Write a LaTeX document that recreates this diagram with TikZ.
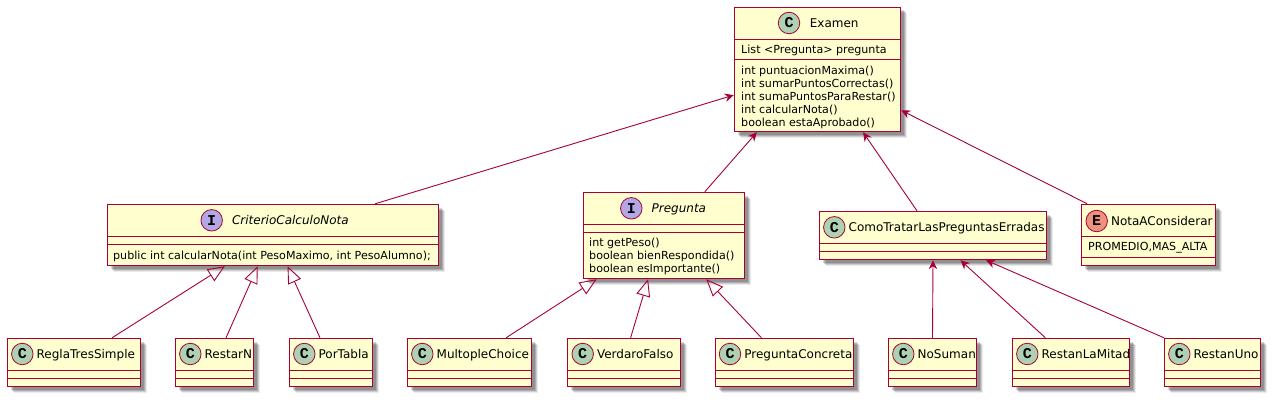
\documentclass[tikz,border=0pt]{standalone}
\usepackage{fontspec}
\setmainfont{DejaVu Sans}
\newfontfamily\markfont{Liberation Mono}
\usetikzlibrary{arrows.meta,positioning,shadows}
\definecolor{umlred}{RGB}{168,0,54}
\definecolor{umlyellow}{RGB}{254,254,206}
\definecolor{cgreen}{RGB}{173,209,178}
\definecolor{ipurple}{RGB}{180,167,229}
\definecolor{eorange}{RGB}{235,147,127}

% frame of one class: name, x0, x1, y0, y1, first and second divider
\newcommand{\classframe}[7]{
  \node[classbox,minimum width=#3pt-#2pt,minimum height=#5pt-#4pt] (#1) at ({(#2+#3)/2},{(#4+#5)/2}) {};
  \draw[divider] (#1.west |- 0,#6) -- (#1.east |- 0,#6);
  \draw[divider] (#1.west |- 0,#7) -- (#1.east |- 0,#7);
}

\begin{document}
\begin{tikzpicture}[x=1pt,y=-1pt,font=\fontsize{11.1}{13}\selectfont,
  classbox/.style={draw=umlred,fill=umlyellow,line width=1.5pt,inner sep=0pt,
    drop shadow={shadow xshift=6pt,shadow yshift=-6pt,fill=black,opacity=.08},
    drop shadow={shadow xshift=5pt,shadow yshift=-5pt,fill=black,opacity=.12},
    drop shadow={shadow xshift=4pt,shadow yshift=-4pt,fill=black,opacity=.16},
    drop shadow={shadow xshift=3pt,shadow yshift=-3pt,fill=black,opacity=.16}},
  divider/.style={draw=umlred,line width=1.2pt},
  markbase/.style={circle,draw=umlred,line width=.8pt,minimum size=21.5pt,inner sep=0pt,
    font=\markfont\bfseries\fontsize{15}{15}\selectfont},
  cmark/.style={markbase,fill=cgreen},
  imark/.style={markbase,fill=ipurple},
  emark/.style={markbase,fill=eorange},
  titletext/.style={inner sep=0pt,text height=10pt,text depth=1.5pt,font=\fontsize{12}{14}\selectfont},
  membertext/.style={inner sep=0pt,anchor=west,align=left},
  assoc/.style={draw=umlred,line width=.9pt,-{Stealth[length=9pt,width=8.5pt,inset=3pt]}},
  realize/.style={draw=umlred,line width=.9pt,-{Triangle[open,length=17pt,width=14pt]}}]

  \useasboundingbox (0,0) rectangle (1278,404);

  % top class
  \classframe{examen}{734.5}{900.5}{7.5}{131.5}{39.5}{59.5}
  \node[cmark] (examenC) at (789,23) {C};
  \node[titletext,right=9.5pt of examenC] (examenT) {Examen};
  \node[membertext] (examenA) at (741,50) {List <Pregunta> pregunta};
  \node[membertext] (examenM) at (741,97.5) {int puntuacionMaxima()\\int sumarPuntosCorrectas()\\int sumaPuntosParaRestar()\\int calcularNota()\\boolean estaAprobado()};

  % middle row
  \classframe{criterio}{107.5}{438.5}{204.5}{265.5}{236.5}{244.5}
  \node[imark] (criterioI) at (211.7,220.3) {I};
  \node[titletext,right=9pt of criterioI,font=\fontsize{12}{14}\selectfont\itshape] (criterioT) {CriterioCalculoNota};
  \node[membertext] (criterioM) at (113,256) {public int calcularNota(int PesoMaximo, int PesoAlumno);};

  \classframe{pregunta}{583.5}{744.5}{192.5}{278.5}{224.5}{232.5}
  \node[imark] (preguntaI) at (631.3,208.3) {I};
  \node[titletext,right=9pt of preguntaI,font=\fontsize{12}{14}\selectfont\itshape] (preguntaT) {Pregunta};
  \node[membertext] (preguntaM) at (589,256.3) {int getPeso()\\boolean bienRespondida()\\boolean esImportante()};

  \classframe{como}{819.5}{1046.5}{211.5}{259.5}{243.5}{251.5}
  \node[cmark] (comoC) at (834.3,227.3) {C};
  \node[titletext,right=3pt of comoC] (comoT) {ComoTratarLasPreguntasErradas};

  \classframe{nota}{1081.5}{1215.5}{204.5}{265.5}{236.5}{257.5}
  \node[emark] (notaE) at (1096.7,221) {E};
  \node[titletext,right=3pt of notaE] (notaT) {NotaAConsiderar};
  \node[membertext] (notaA) at (1088,248) {PROMEDIO,MAS\_ALTA};

  % bottom row
  \classframe{regla}{7.5}{140.5}{338.5}{386.5}{370.5}{378.5}
  \node[cmark] (reglaC) at (22.3,354) {C};
  \node[titletext,right=3pt of reglaC] (reglaT) {ReglaTresSimple};

  \classframe{restarn}{175.5}{253.5}{338.5}{386.5}{370.5}{378.5}
  \node[cmark] (restarnC) at (190.3,354) {C};
  \node[titletext,right=3pt of restarnC] (restarnT) {RestarN};

  \classframe{portabla}{289.5}{372.5}{338.5}{386.5}{370.5}{378.5}
  \node[cmark] (portablaC) at (304.3,354) {C};
  \node[titletext,right=3pt of portablaC] (portablaT) {PorTabla};

  \classframe{multople}{407.5}{531.5}{338.5}{386.5}{370.5}{378.5}
  \node[cmark] (multopleC) at (422.3,354) {C};
  \node[titletext,right=3pt of multopleC] (multopleT) {MultopleChoice};

  \classframe{verdaro}{567.5}{680.5}{338.5}{386.5}{370.5}{378.5}
  \node[cmark] (verdaroC) at (582.7,354) {C};
  \node[titletext,right=3pt of verdaroC] (verdaroT) {VerdaroFalso};

  \classframe{concreta}{715.5}{853.5}{338.5}{386.5}{370.5}{378.5}
  \node[cmark] (concretaC) at (730,354) {C};
  \node[titletext,right=3pt of concretaC] (concretaT) {PreguntaConcreta};

  \classframe{nosuman}{888.5}{976.5}{338.5}{386.5}{370.5}{378.5}
  \node[cmark] (nosumanC) at (903.3,354) {C};
  \node[titletext,right=3pt of nosumanC] (nosumanT) {NoSuman};

  \classframe{mitad}{1012.5}{1129.5}{338.5}{386.5}{370.5}{378.5}
  \node[cmark] (mitadC) at (1027.3,354) {C};
  \node[titletext,right=3pt of mitadC] (mitadT) {RestanLaMitad};

  \classframe{uno}{1164.5}{1260.5}{338.5}{386.5}{370.5}{378.5}
  \node[cmark] (unoC) at (1179.3,354) {C};
  \node[titletext,right=3pt of unoC] (unoT) {RestanUno};

  % associations up to the top class
  \draw[assoc] (criterio.17) -- (examen.197.4);
  \draw[assoc] (pregunta.47.3) -- (examen.226);
  \draw[assoc] (como.123.5) -- (examen.-54.9);
  \draw[assoc] (nota.153.4) -- (examen.-26.2);

  % implementations
  \draw[realize] (regla.33.9) -- (criterio.213.3);
  \draw[realize] (restarn.65.6) -- (criterio.244.3);
  \draw[realize] (portabla.114.6) -- (criterio.-65.2);
  \draw[realize] (multople.34.1) -- (pregunta.213);
  \draw[realize] (verdaro.75.7) -- (pregunta.250.9);
  \draw[realize] (concreta.133.1) -- (pregunta.-46.1);

  % the three ways of handling errors
  \draw[assoc] (nosuman.90) -- (como.270);
  \draw[assoc] (mitad.136) -- (como.-42.9);
  \draw[assoc] (uno.153.2) -- (como.-25);

\end{tikzpicture}
\end{document}
